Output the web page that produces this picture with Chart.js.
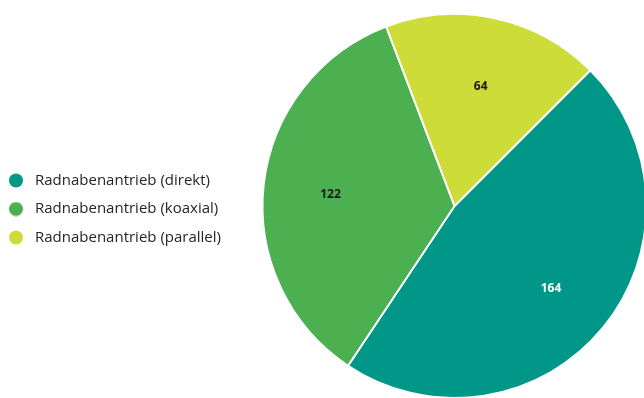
<!DOCTYPE html>
<html>
<head>
<meta charset="utf-8">
<script src="https://cdn.jsdelivr.net/npm/chart.js@4.4.0/dist/chart.umd.min.js"></script>
<style>
  html, body { margin: 0; padding: 0; background: #fff; overflow: hidden; }
  #wrap { position: relative; width: 688px; height: 398px; }
</style>
</head>
<body>
<div id="wrap"><canvas id="pieChart"></canvas></div>
<script>
// Chart data
const labels = ['Radnabenantrieb (direkt)', 'Radnabenantrieb (koaxial)', 'Radnabenantrieb (parallel)'];
const values = [164, 122, 64];
const colors = ['#009688', '#4CAF50', '#CDDC39'];
const labelColors = ['#ffffff', '#1a1a1a', '#1a1a1a'];

// legend marker: circle drawn left of the image centre so the text sits further right
function makeDot(color) {
    const c = document.createElement('canvas');
    c.width = 24;
    c.height = 15;
    const ctx = c.getContext('2d');
    ctx.fillStyle = color;
    ctx.beginPath();
    ctx.arc(7, 7.5, 7, 0, Math.PI * 2);
    ctx.fill();
    return c;
}
const dots = colors.map(makeDot);

// draws the value inside each slice
const sliceLabels = {
    id: 'sliceLabels',
    afterDatasetsDraw(chart) {
        const ctx = chart.ctx;
        const meta = chart.getDatasetMeta(0);
        ctx.save();
        ctx.font = 'bold 12px "Open Sans", sans-serif';
        ctx.textAlign = 'center';
        ctx.textBaseline = 'middle';
        meta.data.forEach((arc, i) => {
            const p = arc.getProps(['x', 'y', 'startAngle', 'endAngle', 'outerRadius'], true);
            const mid = (p.startAngle + p.endAngle) / 2;
            const r = p.outerRadius * 0.65;
            ctx.fillStyle = labelColors[i];
            ctx.fillText(values[i], p.x + Math.cos(mid) * r, p.y + Math.sin(mid) * r + 3);
        });
        ctx.restore();
    }
};

function createChart() {
    const ctx = document.getElementById('pieChart').getContext('2d');
    new Chart(ctx, {
        type: 'pie',
        data: {
            labels: labels,
            datasets: [{
                data: values,
                backgroundColor: colors,
                borderColor: '#ffffff',
                borderWidth: 2
            }]
        },
        options: {
            responsive: true,
            maintainAspectRatio: false,
            animation: false,
            rotation: 45,
            radius: 192,
            layout: {
                padding: { left: 1, right: 10, top: 14, bottom: 0 }
            },
            plugins: {
                legend: {
                    position: 'left',
                    title: { display: true, text: '', font: { size: 5 }, padding: 0 },
                    labels: {
                        usePointStyle: true,
                        boxWidth: 13,
                        padding: 13.5,
                        color: '#252525',
                        font: { family: '"Open Sans", sans-serif', size: 15 },
                        generateLabels(chart) {
                            return labels.map((text, i) => ({
                                text: text,
                                fillStyle: colors[i],
                                strokeStyle: colors[i],
                                fontColor: '#252525',
                                lineWidth: 0,
                                pointStyle: dots[i],
                                hidden: false,
                                index: i
                            }));
                        }
                    }
                },
                tooltip: { enabled: false }
            }
        },
        plugins: [sliceLabels]
    });
}

window.onload = createChart;
</script>
</body>
</html>
